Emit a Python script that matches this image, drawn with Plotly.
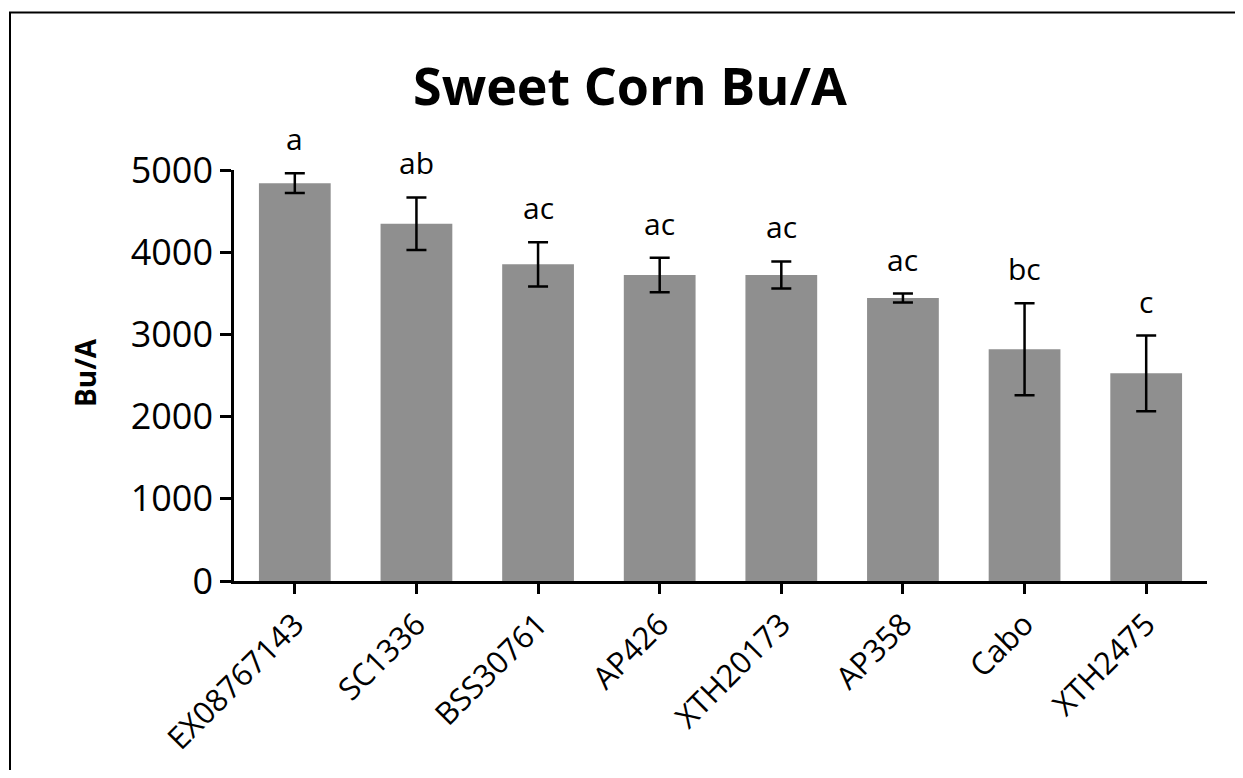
import plotly.graph_objects as go

categories = ["EX08767143", "SC1336", "BSS30761", "AP426", "XTH20173", "AP358", "Cabo", "XTH2475"]
values = [4840, 4346, 3852, 3723, 3723, 3442, 2819, 2526]
errors = [120, 320, 270, 210, 165, 55, 560, 460]
letters = ["a", "ab", "ac", "ac", "ac", "ac", "bc", "c"]
y_ticks = [0, 1000, 2000, 3000, 4000, 5000]

OFF = 8  # browser body margin
W, H = 1243 - 2 * OFF, 778 - 2 * OFF
# plot area in page pixels: x 234..1207, y 170..585
L = 234 - OFF
T = 170 - OFF
R = W - (1207 - OFF)
B = H - (585 - OFF)
pw, ph = W - L - R, H - T - B

def px_x(p):
    return (p - OFF - L) / pw

def px_y(p):
    return (H - B - (p - OFF)) / ph

FONT = "Open Sans"

fig = go.Figure()
fig.add_trace(go.Bar(
    x=categories, y=values,
    marker=dict(color="#8f8f8f", line=dict(width=0)),
    error_y=dict(type="data", array=errors, visible=True, color="black", thickness=2.5, width=10),
))

annotations = []
for c, v, e, t in zip(categories, values, errors, letters):
    annotations.append(dict(x=c, y=v + e, xref="x", yref="y", text=t, showarrow=False,
                            yanchor="bottom", yshift=12, font=dict(family=FONT, size=30, color="black")))

annotations.append(dict(x=px_x(630), y=px_y(84), xref="paper", yref="paper", text="<b>Sweet Corn Bu/A</b>",
                        showarrow=False, xanchor="center", yanchor="middle",
                        font=dict(family=FONT, size=52, color="black")))
annotations.append(dict(x=px_x(85), y=px_y(375), xref="paper", yref="paper", text="<b>Bu/A</b>",
                        showarrow=False, xanchor="center", yanchor="middle", textangle=-90,
                        font=dict(family=FONT, size=28, color="black")))

border = dict(color="black", width=2)
fig.update_layout(
    width=W, height=H, autosize=False,
    margin=dict(l=L, r=R, t=T, b=B, pad=0),
    paper_bgcolor="white", plot_bgcolor="white",
    bargap=0.41, showlegend=False,
    annotations=annotations,
    shapes=[
        dict(type="line", xref="paper", yref="paper", x0=px_x(10), x1=px_x(10), y0=px_y(800), y1=px_y(11), line=border),
        dict(type="line", xref="paper", yref="paper", x0=px_x(9), x1=px_x(1260), y0=px_y(11), y1=px_y(11), line=border),
    ],
)
fig.update_yaxes(range=[0, 5000], tickvals=y_ticks, ticks="outside", ticklen=11, tickwidth=2.5, tickcolor="black",
                 showline=True, linecolor="black", linewidth=2.5, showgrid=False, zeroline=False,
                 tickfont=dict(family=FONT, size=36, color="black"))
fig.update_xaxes(ticks="outside", ticklen=10, tickwidth=2.5, tickcolor="black", tickangle=-45,
                 showline=True, linecolor="black", linewidth=2.5, showgrid=False,
                 tickfont=dict(family=FONT, size=31, color="black"))

fig.write_html("out.html")
